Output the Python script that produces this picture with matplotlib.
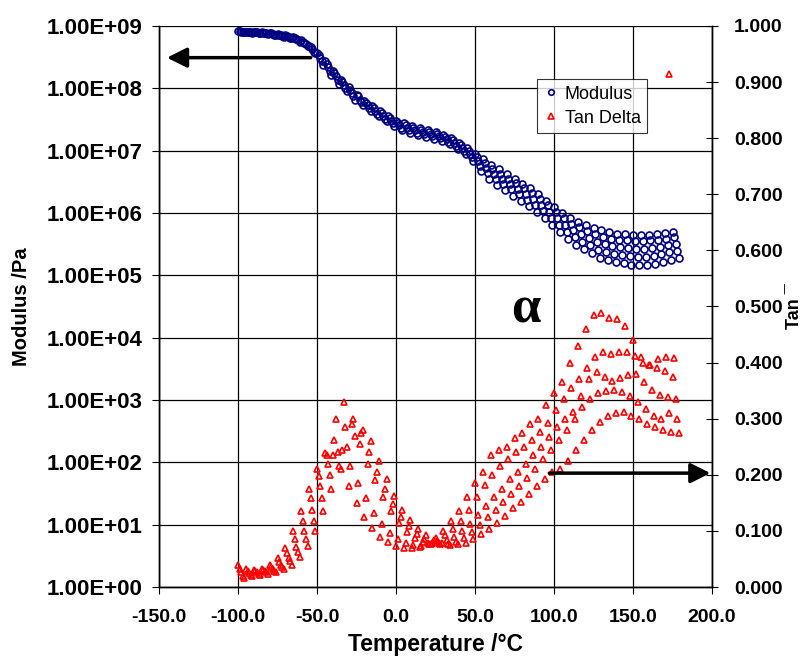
import numpy as np
import matplotlib
matplotlib.use('Agg')
import matplotlib.pyplot as plt
from matplotlib.lines import Line2D

plt.rcParams['font.family'] = ['Liberation Sans', 'DejaVu Sans']

# temperature steps (deg C); each frequency is read a little later in the ramp
temps = np.arange(-100, 176, 5)
freq_lag = [0.0, 1.0, 2.0, 3.0, 4.0]

# log10 storage modulus (Pa), five test frequencies, highest curve first
logE_1 = [8.92, 8.91, 8.91, 8.90, 8.89, 8.87, 8.85, 8.82, 8.77, 8.68, 8.57, 8.43, 8.28, 8.14,
          8.02, 7.90, 7.80, 7.71, 7.63, 7.55, 7.48, 7.44, 7.40, 7.36, 7.33, 7.30, 7.25, 7.20,
          7.13, 7.04, 6.95, 6.86, 6.77, 6.70, 6.62, 6.55, 6.47, 6.40, 6.30, 6.20, 6.10, 6.00,
          5.92, 5.86, 5.80, 5.76, 5.72, 5.69, 5.67, 5.66, 5.65, 5.65, 5.65, 5.66, 5.68, 5.70]
logE_2 = [8.92, 8.91, 8.90, 8.89, 8.88, 8.86, 8.84, 8.81, 8.75, 8.66, 8.53, 8.39, 8.24, 8.10,
          7.98, 7.87, 7.77, 7.68, 7.60, 7.52, 7.45, 7.41, 7.37, 7.33, 7.30, 7.27, 7.22, 7.17,
          7.09, 7.00, 6.90, 6.80, 6.71, 6.63, 6.55, 6.48, 6.40, 6.32, 6.22, 6.12, 6.02, 5.92,
          5.83, 5.77, 5.71, 5.66, 5.62, 5.59, 5.57, 5.56, 5.55, 5.55, 5.56, 5.57, 5.59, 5.61]
logE_3 = [8.91, 8.90, 8.90, 8.89, 8.87, 8.85, 8.83, 8.79, 8.73, 8.63, 8.48, 8.34, 8.19, 8.05,
          7.93, 7.82, 7.73, 7.64, 7.56, 7.48, 7.41, 7.37, 7.33, 7.30, 7.27, 7.24, 7.18, 7.12,
          7.05, 6.95, 6.83, 6.72, 6.63, 6.55, 6.47, 6.39, 6.31, 6.23, 6.13, 6.02, 5.92, 5.81,
          5.73, 5.66, 5.60, 5.54, 5.50, 5.47, 5.45, 5.44, 5.43, 5.43, 5.44, 5.46, 5.49, 5.51]
logE_4 = [8.91, 8.90, 8.89, 8.88, 8.86, 8.84, 8.81, 8.77, 8.71, 8.59, 8.43, 8.28, 8.13, 8.00,
          7.88, 7.78, 7.68, 7.59, 7.51, 7.44, 7.37, 7.33, 7.29, 7.26, 7.23, 7.20, 7.14, 7.08,
          7.00, 6.89, 6.76, 6.64, 6.54, 6.46, 6.38, 6.30, 6.21, 6.13, 6.03, 5.92, 5.80, 5.70,
          5.61, 5.54, 5.48, 5.41, 5.37, 5.34, 5.32, 5.31, 5.30, 5.30, 5.31, 5.34, 5.37, 5.39]
logE_5 = [8.90, 8.89, 8.88, 8.87, 8.85, 8.83, 8.80, 8.75, 8.68, 8.56, 8.38, 8.22, 8.07, 7.95,
          7.82, 7.73, 7.64, 7.55, 7.47, 7.40, 7.33, 7.29, 7.25, 7.22, 7.19, 7.16, 7.10, 7.03,
          6.95, 6.83, 6.68, 6.55, 6.45, 6.37, 6.28, 6.20, 6.11, 6.02, 5.92, 5.81, 5.69, 5.58,
          5.49, 5.42, 5.35, 5.28, 5.24, 5.21, 5.19, 5.17, 5.17, 5.17, 5.18, 5.21, 5.25, 5.27]

# tan delta, same five frequencies (lowest frequency first)
tan_1 = [.040, .032, .030, .033, .040, .052, .070, .100, .135, .175, .210, .238, .235, .210,
         .180, .150, .125, .105, .090, .080, .073, .070, .070, .072, .078, .088, .100, .118,
         .135, .160, .185, .205, .235, .245, .250, .265, .275, .290, .300, .325, .345, .365,
         .400, .430, .460, .484, .489, .480, .478, .466, .440, .410, .395, .390, .385, .375]
tan_2 = [.032, .028, .028, .030, .035, .045, .060, .085, .118, .158, .198, .235, .262, .245,
         .215, .185, .158, .132, .112, .097, .086, .079, .075, .074, .076, .082, .092, .104,
         .118, .138, .160, .182, .200, .215, .228, .240, .250, .262, .276, .292, .315, .335,
         .355, .370, .390, .410, .418, .416, .418, .418, .412, .400, .395, .407, .410, .409]
tan_3 = [.026, .025, .026, .028, .032, .040, .052, .072, .100, .138, .180, .220, .300, .330,
         .290, .255, .220, .190, .160, .135, .115, .098, .087, .080, .077, .078, .083, .090,
         .100, .113, .128, .145, .160, .175, .192, .205, .220, .235, .250, .268, .285, .300,
         .312, .340, .370, .383, .375, .368, .372, .378, .380, .365, .352, .342, .338, .336]
tan_4 = [.020, .022, .024, .026, .029, .036, .046, .062, .086, .118, .158, .200, .240, .285,
         .300, .275, .240, .205, .175, .148, .125, .108, .094, .085, .079, .076, .077, .081,
         .088, .098, .110, .124, .138, .152, .166, .180, .195, .210, .228, .245, .262, .280,
         .300, .320, .335, .345, .350, .352, .348, .340, .330, .318, .305, .300, .310, .300]
tan_5 = [.016, .020, .022, .024, .027, .032, .040, .054, .074, .100, .135, .175, .215, .250,
         .270, .280, .260, .225, .192, .162, .138, .120, .104, .092, .084, .078, .075, .076,
         .079, .085, .094, .104, .115, .127, .140, .152, .166, .180, .193, .205, .210, .225,
         .245, .262, .280, .295, .305, .310, .312, .305, .300, .290, .285, .280, .276, .274]

# single stray tan delta reading
stray_T = [173]
stray_tan = [0.915]

x_ticks = [-150, -100, -50, 0, 50, 100, 150, 200]
mod_ticks = [1e0, 1e1, 1e2, 1e3, 1e4, 1e5, 1e6, 1e7, 1e8, 1e9]
tan_ticks = [0.0, 0.1, 0.2, 0.3, 0.4, 0.5, 0.6, 0.7, 0.8, 0.9, 1.0]

blue = '#000080'
red = '#ff0000'

fig = plt.figure(figsize=(8.06, 6.57), dpi=100)
ax = fig.add_axes([0.1973, 0.1065, 0.6861, 0.854])
ax2 = ax.twinx()

for logE, lag in zip([logE_1, logE_2, logE_3, logE_4, logE_5], freq_lag):
    ax.plot(temps + lag, 10 ** np.array(logE), 'o', ms=5, mfc='none', mec=blue, mew=1.2,
            zorder=3)

for tan, lag in zip([tan_1, tan_2, tan_3, tan_4, tan_5], freq_lag):
    ax2.plot(temps + lag, tan, '^', ms=4.5, mfc='none', mec=red, mew=1.2, zorder=3)
ax2.plot(stray_T, stray_tan, '^', ms=4.5, mfc='none', mec=red, mew=1.2, zorder=3)

ax.set_yscale('log')
ax.set_xlim(-150, 200)
ax.set_ylim(1, 1e9)
ax2.set_ylim(0, 1)

ax.set_xticks(x_ticks)
ax.set_xticklabels([f'{v:.1f}' for v in x_ticks])
ax.set_yticks(mod_ticks)
ax.set_yticklabels([f'{v:.2E}' for v in mod_ticks])
ax.yaxis.set_minor_locator(matplotlib.ticker.NullLocator())
ax2.set_yticks(tan_ticks)
ax2.set_yticklabels([f'{v:.3f}' for v in tan_ticks])

ax.grid(True, color='black', lw=0.9)
ax.set_axisbelow(True)

ax.tick_params(axis='y', direction='out', length=5, pad=7, labelsize=16)
ax.tick_params(axis='x', direction='out', length=5, pad=11, labelsize=14)
ax2.tick_params(axis='y', direction='inout', length=8, pad=12, labelsize=14)
for lab in ax.get_xticklabels() + ax.get_yticklabels() + ax2.get_yticklabels():
    lab.set_fontweight('bold')

for a in (ax, ax2):
    for s in a.spines.values():
        s.set_linewidth(1.0)
    a.spines['top'].set_visible(False)

ax.set_xlabel('Temperature /°C', fontsize=16.5, fontweight='bold', labelpad=5)
ax.set_ylabel('Modulus /Pa', fontsize=14.5, fontweight='bold')
ax.yaxis.set_label_coords(-0.232, 0.5)
ax2.set_ylabel('Tan \u00af', fontsize=13, fontweight='bold')
ax2.yaxis.set_label_coords(1.134, 0.5)

# arrows pointing to the relevant axis
ax.annotate('', xy=(-145, 3.1e8), xytext=(-54, 3.1e8),
            arrowprops=dict(arrowstyle='-|>,head_length=0.6,head_width=0.3',
                            lw=2.5, color='black', mutation_scale=20, shrinkA=0, shrinkB=0),
            zorder=5)
ax2.annotate('', xy=(199, 0.203), xytext=(97, 0.203),
             arrowprops=dict(arrowstyle='-|>,head_length=0.6,head_width=0.3',
                             lw=2.5, color='black', mutation_scale=20, shrinkA=0, shrinkB=0),
             zorder=5)

ax.text(82, 10 ** 4.45, '\u03b1', fontsize=38, fontweight='bold', family='Liberation Serif',
        ha='center', va='center')

handles = [Line2D([], [], ls='none', marker='o', ms=4, mfc='none', mec=blue, mew=1.2),
           Line2D([], [], ls='none', marker='^', ms=4, mfc='none', mec=red, mew=1.2)]
leg = ax2.legend(handles, ['Modulus', 'Tan Delta'], loc='upper left',
                 bbox_to_anchor=(0.6835, 0.905), fontsize=13, frameon=True, fancybox=False,
                 handlelength=0.8, handletextpad=0.4, borderpad=0.35, labelspacing=0.4,
                 borderaxespad=0)
leg.get_frame().set_edgecolor('black')
leg.get_frame().set_linewidth(0.8)

fig.savefig('out.png', dpi=100)
